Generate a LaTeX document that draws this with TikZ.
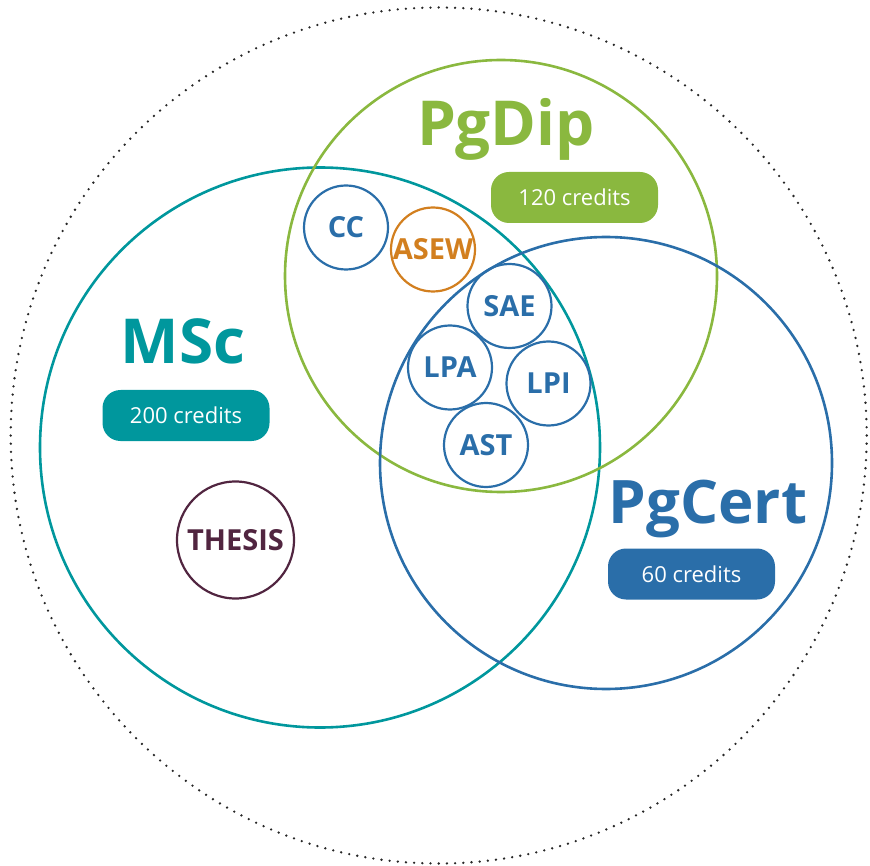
\documentclass[tikz,border=0pt]{standalone}
\usepackage{fontspec}
\setmainfont{Open Sans}
\usetikzlibrary{calc}

\definecolor{mscteal}{HTML}{00979D}
\definecolor{dipgreen}{HTML}{8AB83F}
\definecolor{certblue}{HTML}{2A6EA9}
\definecolor{asewor}{HTML}{D27F1F}
\definecolor{thesisred}{HTML}{512540}

\tikzset{
  bigring/.style={line width=2.6pt},
  course/.style={circle, draw=certblue, text=certblue, line width=2.2pt, minimum size=84pt, inner sep=0pt, font=\fontsize{29}{29}\selectfont\bfseries},
  title/.style={inner sep=0pt, anchor=base, font=\fontsize{62}{62}\selectfont\bfseries},
  credits/.style={rounded corners=18pt, minimum width=167pt, minimum height=51pt, inner sep=0pt, text=white, font=\fontsize{22}{22}\selectfont}
}

\begin{document}
\begin{tikzpicture} [x=1pt,y=-1pt]
\useasboundingbox (0,0) rectangle (870,866);

\draw[line width=2.6pt, line cap=round, dash pattern=on 0pt off 8.2pt, black!85] (438.7,435.5) circle [radius=428pt];

\draw[bigring, mscteal] (320,447.5) circle [radius=280pt];
\draw[bigring, dipgreen] (501,276) circle [radius=216pt];
\draw[bigring, certblue] (606,463) circle [radius=226pt];

\node[title, text=dipgreen] (pgdip) at (506,146) {PgDip};
\node[credits, fill=dipgreen] (dipcr) at (574.5,197.5) {120 credits};
\node[title, text=mscteal] (msc) at (183,363) {MSc};
\node[credits, fill=mscteal] (msccr) at (186,415.5) {200 credits};
\node[title, text=certblue, font=\fontsize{60}{60}\selectfont\bfseries] (pgcert) at (708,523) {PgCert};
\node[credits, fill=certblue] (certcr) at (691.5,574) {60 credits};

\node[course] (cc) at (346,227.5) {CC};
\node[course, draw=asewor, text=asewor] (asew) at (433,249.5) {ASEW};
\node[course] (sae) at (509.5,306) {SAE};
\node[course] (lpa) at (450,367.5) {LPA};
\node[course] (lpi) at (548.5,383.5) {LPI};
\node[course] (ast) at (486,445) {AST};
\node[course, draw=thesisred, text=thesisred, minimum size=117pt] (thesis) at (235.5,540) {THESIS};

\end{tikzpicture}
\end{document}
